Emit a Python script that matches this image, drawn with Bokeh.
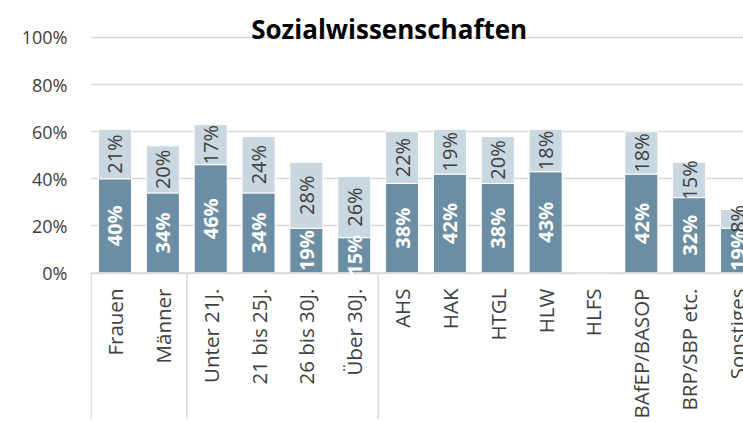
from math import pi
from bokeh.plotting import figure
from bokeh.models import Range1d, FixedTicker, NumeralTickFormatter, ColumnDataSource
from bokeh.core.properties import value
from bokeh.embed import file_html
from bokeh.resources import INLINE

title_text = "Sozialwissenschaften"
categories = ["Frauen", "Männer", "Unter 21J.", "21 bis 25J.", "26 bis 30J.", "Über 30J.",
              "AHS", "HAK", "HTGL", "HLW", "HLFS", "BAfEP/BASOP", "BRP/SBP etc.", "Sonstiges"]
dark_vals = [40, 34, 46, 34, 19, 15, 38, 42, 38, 43, 0, 42, 32, 19]
light_vals = [21, 20, 17, 24, 28, 26, 22, 19, 20, 18, 0, 18, 15, 8]
group_bounds = [-0.5, 1.5, 5.5]
y_ticks = [0, 0.2, 0.4, 0.6, 0.8, 1.0]

DARK = "#6b8ea4"
LIGHT = "#c9d7e0"
GRID = "#d9d9d9"
TXT = "#404040"
FONT = "Open Sans"

n = len(categories)
xs = list(range(n))
d = [v / 100 for v in dark_vals]
l = [v / 100 for v in light_vals]
tops = [a + b for a, b in zip(d, l)]

X0, X1 = -0.512, 13.135
p = figure(width=743, height=423, output_backend="svg", toolbar_location=None,
           x_axis_location=None, y_axis_location="left",
           x_range=Range1d(X0, X1), y_range=Range1d(-0.639, 1.157),
           min_border_left=90, min_border_right=0, min_border_top=0, min_border_bottom=0)
p.outline_line_color = None
p.xgrid.visible = False
p.ygrid.ticker = FixedTicker(ticks=y_ticks)
p.ygrid.grid_line_color = GRID
p.ygrid.grid_line_width = 1.5

ax = p.yaxis[0]
ax.ticker = FixedTicker(ticks=y_ticks)
ax.formatter = NumeralTickFormatter(format="0%")
ax.axis_line_color = None
ax.major_tick_line_color = None
ax.minor_tick_line_color = None
ax.major_tick_out = 0
ax.major_tick_in = 0
ax.major_label_standoff = 23
ax.major_label_text_font = FONT
ax.major_label_text_font_size = "18px"
ax.major_label_text_color = TXT

src = ColumnDataSource(dict(x=xs, d=d, t=tops))
p.vbar(x="x", bottom=0, top="d", width=0.69, source=src, fill_color=DARK,
       line_color="white", line_width=1)
p.vbar(x="x", bottom="d", top="t", width=0.69, source=src, fill_color=LIGHT,
       line_color="white", line_width=1)

# baseline and group separators
p.segment(x0=[X0], y0=[0], x1=[X1], y1=[0], line_color=GRID, line_width=1.5)
p.segment(x0=group_bounds, y0=[0] * len(group_bounds), x1=group_bounds,
          y1=[-0.62] * len(group_bounds), line_color=GRID, line_width=1.5)

# value labels
dk = [i for i in xs if dark_vals[i] > 0]
p.text(x=dk, y=[d[i] / 2 for i in dk], text=[f"{dark_vals[i]}%" for i in dk],
       angle=pi / 2, text_align="center", text_baseline="middle",
       text_font=value(FONT), text_font_style="bold", text_font_size="20px",
       text_color="white")
lk = [i for i in xs if light_vals[i] > 0]
p.text(x=lk, y=[d[i] + l[i] / 2 for i in lk], text=[f"{light_vals[i]}%" for i in lk],
       angle=pi / 2, text_align="center", text_baseline="middle",
       text_font=value(FONT), text_font_size="20px", text_color=TXT)

# category labels
p.text(x=xs, y=[-0.066] * n, text=categories, angle=pi / 2, text_align="right",
       text_baseline="middle", text_font=value(FONT), text_font_size="20.5px",
       text_color=TXT)

# title
p.text(x=[5.73], y=[1.038], text=[title_text], text_align="center",
       text_baseline="alphabetic", text_font=value(FONT), text_font_style="bold",
       text_font_size="26px", text_color="#000000")

open("out.html", "w").write(file_html(p, INLINE))
